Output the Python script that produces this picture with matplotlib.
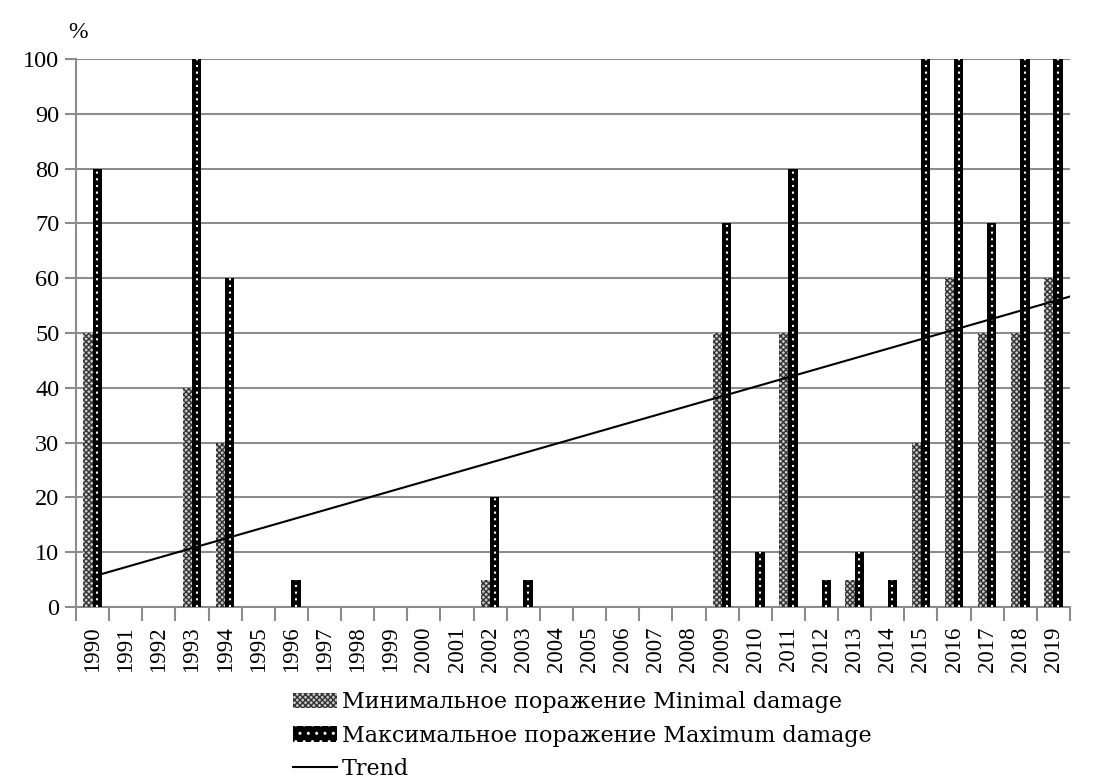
import numpy as np
import matplotlib
matplotlib.use("Agg")
import matplotlib.pyplot as plt
from matplotlib.patches import Patch
from matplotlib.lines import Line2D

plt.rcParams["font.family"] = ["Liberation Serif", "DejaVu Serif"]
plt.rcParams["hatch.linewidth"] = 1.0

years = [str(y) for y in range(1990, 2020)]

minimal = [50, 0, 0, 40, 30, 0, 0, 0, 0, 0, 0, 0, 5, 0, 0, 0, 0, 0, 0,
           50, 0, 50, 0, 5, 0, 30, 60, 50, 50, 60]
maximum = [80, 0, 0, 100, 60, 0, 5, 0, 0, 0, 0, 0, 20, 5, 0, 0, 0, 0, 0,
           70, 10, 80, 5, 10, 5, 100, 100, 70, 100, 100]

label_min = "Минимальное поражение Minimal damage"
label_max = "Максимальное поражение Maximum damage"
label_trend = "Trend"

GRID = "#8c8c8c"
MIN_FACE = "#c8c8c8"
MIN_HATCH = "#333333"

fig = plt.figure(figsize=(10.97, 7.83), dpi=100)
ax = fig.add_axes([0.0693, 0.2248, 0.9061, 0.6998])

x = np.arange(len(years))
w = 0.28

ax.bar(x - w / 2, minimal, w, facecolor=MIN_FACE, edgecolor=MIN_HATCH,
       hatch="xxxxxx", linewidth=0, zorder=3)
ax.bar(x + w / 2, maximum, w, facecolor="black", linewidth=0, zorder=3)
# white dotted line down the middle of the black bars
ax.vlines(x + w / 2, 0, maximum, colors="white", linewidth=1.5,
          linestyles=(0, (1, 2.2)), zorder=3.5)

# linear trend of the maximum damage series
k, b = np.polyfit(x, maximum, 1)
tx = np.array([0, len(years) - 0.5])
ax.plot(tx, k * tx + b, color="black", linewidth=1.5, zorder=4)

ax.set_xlim(-0.5, len(years) - 0.5)
ax.set_ylim(0, 100)
ax.set_yticks(range(0, 101, 10))
ax.yaxis.grid(True, color=GRID, linewidth=1.5, zorder=0)
ax.set_axisbelow(True)

ax.set_xticks(x)
ax.set_xticklabels(years, rotation=90)
ax.set_xticks(np.arange(-0.5, len(years)), minor=True)
ax.tick_params(axis="x", which="major", length=0, pad=14, labelsize=16.5)
ax.tick_params(axis="x", which="minor", length=10, width=1.5, color=GRID)
ax.tick_params(axis="y", length=8, width=1.5, color=GRID, labelsize=17.5,
               pad=4)

for side in ["top", "right"]:
    ax.spines[side].set_visible(False)
for side in ["left", "bottom"]:
    ax.spines[side].set_color(GRID)
    ax.spines[side].set_linewidth(1.5)

fig.text(0.062, 0.958, "%", fontsize=17, ha="left", va="center")

handles = [
    Patch(facecolor=MIN_FACE, edgecolor=MIN_HATCH, hatch="xxxxxx",
          linewidth=0),
    Patch(facecolor="black", edgecolor="white", hatch="..", linewidth=0),
    Line2D([], [], color="black", linewidth=1.5),
]
fig.legend(handles, [label_min, label_max, label_trend],
           loc="upper left", bbox_to_anchor=(0.267, 0.117), frameon=False,
           prop={"family": "DejaVu Serif", "size": 16},
           handlelength=2.0, handleheight=0.7, handletextpad=0.22,
           labelspacing=0.5, borderaxespad=0, borderpad=0)

fig.savefig("out.png", dpi=100)
